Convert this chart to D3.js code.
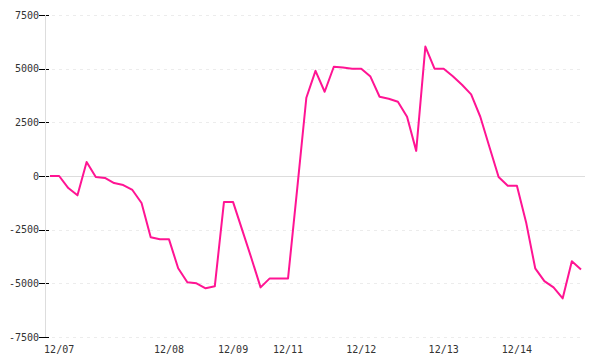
<!DOCTYPE html>
<html>
<head>
<meta charset="utf-8">
<script src="https://cdn.jsdelivr.net/npm/d3@7"></script>
<style>
  body { margin: 0; background: #fff; }
  text { font-family: "DejaVu Sans Mono", monospace; font-size: 10px; fill: #333; }
</style>
</head>
<body>
<div id="chart"></div>
<script>
// one value per sample, samples are evenly spaced along x
const values = [
  0, 0, -560, -900, 650, -50, -90, -330, -420, -650,
  -1260, -2850, -2950, -2950, -4300, -4950, -5000, -5230, -5140, -1215,
  -1215, -2520, -3830, -5190, -4770, -4770, -4770, -600, 3645, 4900,
  3925, 5090, 5050, 5000, 5000, 4630, 3690, 3600, 3460, 2760,
  1170, 6030, 5000, 5000, 4650, 4250, 3800, 2760, 1350, -50,
  -450, -450, -2150, -4300, -4900, -5190, -5700, -3970, -4350
];
// first sample of each day
const dayIndex = [1, 13, 20, 26, 34, 43, 51];
const dayLabels = ['12/07', '12/08', '12/09', '12/11', '12/12', '12/13', '12/14'];
const yTicks = [-7500, -5000, -2500, 0, 2500, 5000, 7500];

const width = 600, height = 360;
const axisX = 45, plotRight = 585;

const svg = d3.select('#chart')
  .append('svg')
  .attr('width', width)
  .attr('height', height);

const x = d3.scalePoint()
  .domain(d3.range(values.length))
  .range([50, 581]);

const y = d3.scaleLinear()
  .domain([-7500, 7500])
  .range([337, 15]);

// --- grid ---
svg.append('g')
  .selectAll('line')
  .data(yTicks)
  .enter().append('line')
  .attr('x1', axisX)
  .attr('x2', d => d === 0 ? plotRight : plotRight - 2)
  .attr('y1', d => Math.round(y(d)) + 0.5)
  .attr('y2', d => Math.round(y(d)) + 0.5)
  .attr('stroke', d => d === 0 ? '#dddddd' : '#ececec')
  .attr('stroke-dasharray', d => d === 0 ? null : '3,4');

// --- y axis ---
const yAxis = svg.append('g');
yAxis.selectAll('line.tick')
  .data(yTicks)
  .enter().append('line')
  .attr('class', 'tick')
  .attr('x1', 39).attr('x2', 49)
  .attr('y1', d => Math.round(y(d)) + 0.5)
  .attr('y2', d => Math.round(y(d)) + 0.5)
  .attr('stroke', '#000');

yAxis.append('line')
  .attr('x1', axisX + 0.5).attr('x2', axisX + 0.5)
  .attr('y1', 15).attr('y2', 337)
  .attr('stroke', '#dddddd');

yAxis.selectAll('text')
  .data(yTicks)
  .enter().append('text')
  .attr('x', 39)
  .attr('y', d => y(d))
  .attr('dy', '0.35em')
  .attr('text-anchor', 'end')
  .text(d => d);

// --- x axis labels ---
svg.append('g')
  .selectAll('text')
  .data(dayIndex)
  .enter().append('text')
  .attr('x', d => x(d))
  .attr('y', 353)
  .attr('text-anchor', 'middle')
  .text((d, i) => dayLabels[i]);

// --- line ---
const line = d3.line()
  .x((d, i) => x(i))
  .y(d => y(d));

svg.append('path')
  .datum(values)
  .attr('fill', 'none')
  .attr('stroke', '#ff1493')
  .attr('stroke-width', 2)
  .attr('stroke-linejoin', 'round')
  .attr('d', line);
</script>
</body>
</html>
